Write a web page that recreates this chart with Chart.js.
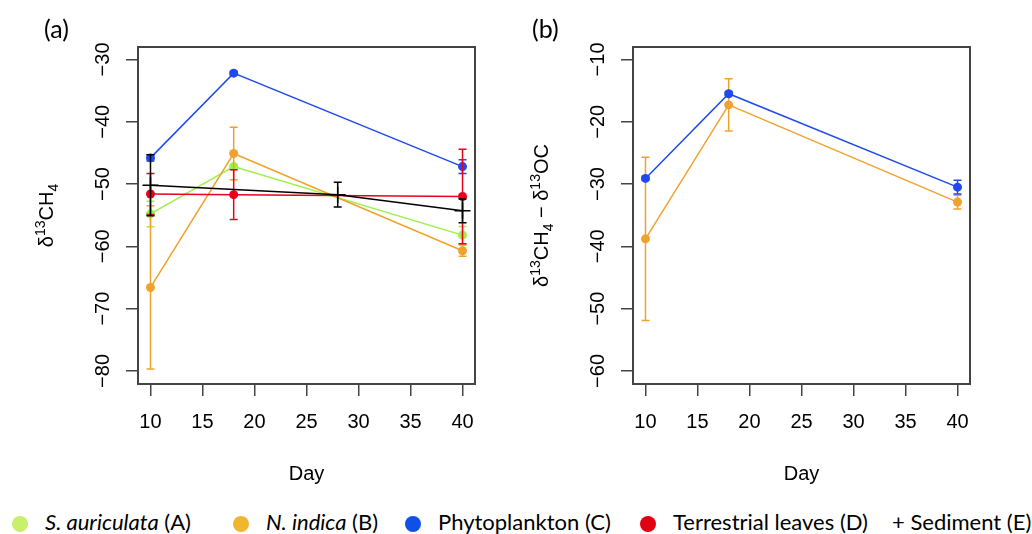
<!DOCTYPE html>
<html>
<head>
<meta charset="utf-8">
<script src="https://cdn.jsdelivr.net/npm/chart.js@4/dist/chart.umd.min.js"></script>
<style>
  body { margin: 0; background: #fff; width: 1032px; height: 534px; overflow: hidden; position: relative; }
  canvas { position: absolute; top: 0; }
  #chartA { left: 0; }
  #chartB { left: 516px; }
  .legend { position: absolute; left: 0; top: 0; font-family: Lato, "Open Sans", sans-serif; font-size: 22px; color: #000; white-space: nowrap; }
  .legend .dot { position: absolute; top: 516px; width: 16px; height: 16px; border-radius: 50%; }
  .legend span.txt { position: absolute; top: 509px; line-height: 26px; }
</style>
</head>
<body>
<canvas id="chartA" width="516" height="490"></canvas>
<canvas id="chartB" width="516" height="490"></canvas>
<div class="legend" id="legend"></div>
<script>
// days sampled
const days = [10, 18, 40];
const sedimentDays = [10, 28, 40];
const xTicks = [10, 15, 20, 25, 30, 35, 40];

// (a) d13CH4, means and error
const aurMeanA = [-54.8, -47.2, -58.2];
const aurErrA = [2.05, 0.35, 1.4];
const indMeanA = [-66.6, -45.1, -60.7];
const indErrA = [13.1, 4.2, 0.9];
const phyMeanA = [-45.8, -32.2, -47.2];
const phyErrA = [0.5, 0.3, 1.1];
const terMeanA = [-51.6, -51.7, -52.0];
const terErrA = [3.3, 4.0, 7.6];
const sedMeanA = [-50.2, -51.7, -54.3];
const sedErrA = [4.9, 2.0, 1.9];

// (b) d13CH4 - d13OC
const indMeanB = [-38.8, -17.3, -32.9];
const indErrB = [13.1, 4.2, 1.1];
const phyMeanB = [-29.1, -15.5, -30.5];
const phyErrB = [0.3, 0.3, 1.1];

const ticksA = [-30, -40, -50, -60, -70, -80];
const ticksB = [-10, -20, -30, -40, -50, -60];

const colors = {
  aur: "#9cf048",
  ind: "#f0a22e",
  phy: "#1f4af0",
  ter: "#e8001c",
  sed: "#000000",
};

const FONT = "Arial, 'Liberation Sans', Helvetica, sans-serif";
Chart.defaults.font.family = FONT;
Chart.defaults.font.size = 20;
Chart.defaults.color = "#000";

function pts(xs, ys) {
  return xs.map((x, i) => ({ x: x, y: ys[i] }));
}

function series(label, xs, ys, errs, color, style) {
  return {
    label: label,
    data: pts(xs, ys),
    errors: errs,
    borderColor: color,
    backgroundColor: color,
    borderWidth: 1.5,
    pointStyle: style || "circle",
    pointRadius: style === "cross" ? 8 : 4.5,
    pointBorderWidth: style === "cross" ? 1.5 : 0,
    tension: 0,
    clip: false,
  };
}

// vertical error bars drawn right after each dataset
const errorBars = {
  id: "errorBars",
  afterDatasetDraw(chart, args) {
    const ds = chart.data.datasets[args.index];
    if (!ds.errors) return;
    const yScale = chart.scales.y;
    const ctx = chart.ctx;
    ctx.save();
    ctx.strokeStyle = ds.borderColor;
    ctx.lineWidth = 1.5;
    args.meta.data.forEach((pt, i) => {
      const v = ds.data[i].y;
      const e = ds.errors[i];
      const top = yScale.getPixelForValue(v + e);
      const bot = yScale.getPixelForValue(v - e);
      ctx.beginPath();
      ctx.moveTo(pt.x, top);
      ctx.lineTo(pt.x, bot);
      ctx.moveTo(pt.x - 4, top);
      ctx.lineTo(pt.x + 4, top);
      ctx.moveTo(pt.x - 4, bot);
      ctx.lineTo(pt.x + 4, bot);
      ctx.stroke();
    });
    ctx.restore();
  },
};

// text with super/subscripts, rotated for the y title
function drawRich(ctx, parts, x, y, rotate) {
  const base = 20;
  const small = 14;
  let total = 0;
  parts.forEach((p) => {
    ctx.font = (p.sup || p.sub ? small : base) + "px " + FONT;
    p.w = ctx.measureText(p.t).width;
    total += p.w;
  });
  ctx.save();
  ctx.translate(x, y);
  if (rotate) ctx.rotate(-Math.PI / 2);
  ctx.textBaseline = "alphabetic";
  ctx.textAlign = "left";
  let cx = -total / 2;
  parts.forEach((p) => {
    ctx.font = (p.sup || p.sub ? small : base) + "px " + FONT;
    const dy = p.sup ? -8 : p.sub ? 5 : 0;
    ctx.fillText(p.t, cx, 7 + dy);
    cx += p.w;
  });
  ctx.restore();
}

const frame = {
  id: "frame",
  afterDraw(chart) {
    const o = chart.options.plugins.frame;
    const ctx = chart.ctx;
    const a = chart.chartArea;
    ctx.save();
    ctx.strokeStyle = "#444";
    ctx.lineWidth = 2;
    ctx.strokeRect(a.left, a.top, a.right - a.left, a.bottom - a.top);

    // rotated y tick labels, R style
    ctx.fillStyle = "#000";
    ctx.font = "20px " + FONT;
    ctx.textAlign = "center";
    ctx.textBaseline = "middle";
    o.yTicks.forEach((v) => {
      const py = chart.scales.y.getPixelForValue(v);
      ctx.save();
      ctx.translate(a.left - 36, py);
      ctx.rotate(-Math.PI / 2);
      ctx.fillText("\u2212" + Math.abs(v), 0, 1);
      ctx.restore();
    });

    // x title
    ctx.fillText("Day", (a.left + a.right) / 2, 474);

    // panel letter
    ctx.font = "25px Lato, 'Open Sans', sans-serif";
    ctx.textAlign = "left";
    ctx.fillText(o.letter, o.letterX, 30);

    drawRich(ctx, o.yTitle, o.yTitleX, (a.top + a.bottom) / 2, true);
    ctx.restore();
  },
};

function makeOptions(yMin, yMax, yWidth, rightPad, extra) {
  return {
    responsive: false,
    animation: false,
    events: [],
    layout: { padding: { top: 47, right: rightPad, left: 0, bottom: 0 } },
    plugins: {
      legend: { display: false },
      tooltip: { enabled: false },
      frame: extra,
    },
    scales: {
      x: {
        type: "linear",
        min: 8.8,
        max: 41.2,
        afterFit(s) { s.height = 106; },
        afterBuildTicks(s) { s.ticks = xTicks.map((v) => ({ value: v })); },
        border: { display: false },
        grid: { drawOnChartArea: false, tickLength: 12, color: "#444", lineWidth: 1.5 },
        ticks: { padding: 14, maxRotation: 0, font: { size: 20 } },
      },
      y: {
        type: "linear",
        min: yMin,
        max: yMax,
        afterFit(s) { s.width = yWidth; },
        afterBuildTicks(s) { s.ticks = extra.yTicks.map((v) => ({ value: v })); },
        border: { display: false },
        grid: { drawOnChartArea: false, tickLength: 12, color: "#444", lineWidth: 1.5 },
        ticks: { display: false },
      },
    },
  };
}

new Chart(document.getElementById("chartA"), {
  type: "line",
  data: {
    datasets: [
      series("Sediment (E)", sedimentDays, sedMeanA, sedErrA, colors.sed, "cross"),
      series("Terrestrial leaves (D)", days, terMeanA, terErrA, colors.ter),
      series("Phytoplankton (C)", days, phyMeanA, phyErrA, colors.phy),
      series("N. indica (B)", days, indMeanA, indErrA, colors.ind),
      series("S. auriculata (A)", days, aurMeanA, aurErrA, colors.aur),
    ],
  },
  options: makeOptions(-82.1, -28, 138, 41, {
    yTicks: ticksA,
    letter: "(a)",
    letterX: 44,
    yTitleX: 46,
    yTitle: [{ t: "\u03b4" }, { t: "13", sup: true }, { t: "CH" }, { t: "4", sub: true }],
  }),
  plugins: [errorBars, frame],
});

new Chart(document.getElementById("chartB"), {
  type: "line",
  data: {
    datasets: [
      series("Phytoplankton (C)", days, phyMeanB, phyErrB, colors.phy),
      series("N. indica (B)", days, indMeanB, indErrB, colors.ind),
    ],
  },
  options: makeOptions(-62.1, -8, 117, 62, {
    yTicks: ticksB,
    letter: "(b)",
    letterX: 16,
    yTitleX: 25,
    yTitle: [
      { t: "\u03b4" }, { t: "13", sup: true }, { t: "CH" }, { t: "4", sub: true },
      { t: " \u2212 \u03b4" }, { t: "13", sup: true }, { t: "OC" },
    ],
  }),
  plugins: [errorBars, frame],
});

// legend under both panels
const legendItems = [
  { dot: "#c8f06c", left: 12, html: "<i>S. auriculata</i> (A)" },
  { dot: "#f0b630", left: 233, html: "<i>N. indica</i> (B)" },
  { dot: "#1050e8", left: 405, html: "Phytoplankton (C)" },
  { dot: "#e00014", left: 640, html: "Terrestrial leaves (D)" },
  { dot: null, left: 892, html: "+ Sediment (E)" },
];
const legend = document.getElementById("legend");
legendItems.forEach((it) => {
  if (it.dot) {
    const d = document.createElement("span");
    d.className = "dot";
    d.style.left = it.left + "px";
    d.style.background = it.dot;
    legend.appendChild(d);
  }
  const t = document.createElement("span");
  t.className = "txt";
  t.style.left = (it.dot ? it.left + 33 : it.left) + "px";
  t.innerHTML = it.html;
  legend.appendChild(t);
});
</script>
</body>
</html>
